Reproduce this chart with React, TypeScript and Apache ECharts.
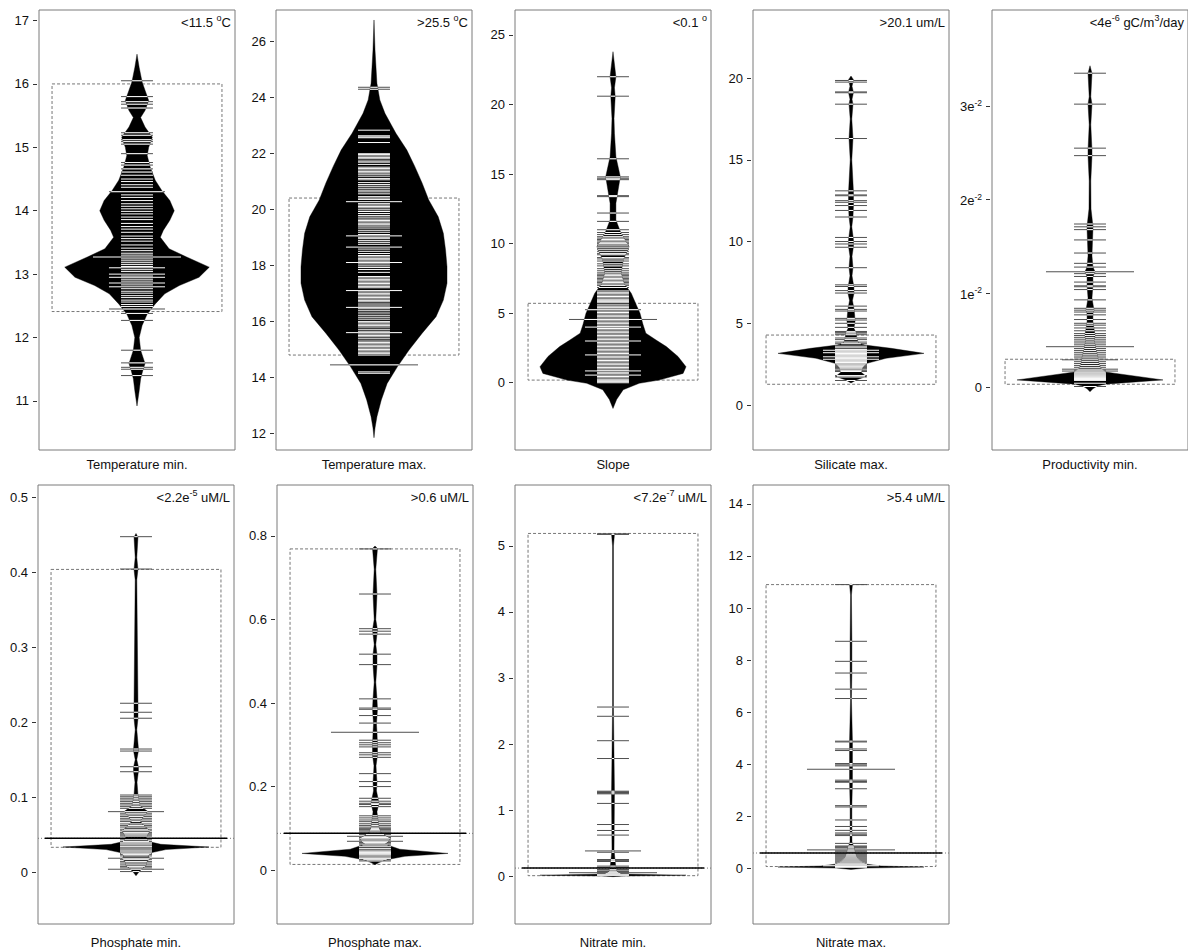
import React, { useEffect, useRef } from "react";
import * as echarts from "echarts";

// ---------------- DATA ----------------
const panelTitles = [
  "Temperature min.", "Temperature max.", "Slope", "Silicate max.", "Productivity min.",
  "Phosphate min.", "Phosphate max.", "Nitrate min.", "Nitrate max.",
];

const thresholdLabels = [
  "{n|<11.5 }{s|o}{n|C}",
  "{n|>25.5 }{s|o}{n|C}",
  "{n|<0.1 }{s|o}",
  "{n|>20.1 um/L}",
  "{n|<4e}{s|-6}{n| gC/m}{s|3}{n|/day}",
  "{n|<2.2e}{s|-5}{n| uM/L}",
  "{n|>0.6 uM/L}",
  "{n|<7.2e}{s|-7}{n| uM/L}",
  "{n|>5.4 uM/L}",
];

// axis ranges [min, max]
const tempMinRange = [10.226, 17.166];
const tempMaxRange = [11.414, 27.106];
const slopeRange = [-4.835, 26.797];
const silicateRange = [-2.75, 24.16];
const prodRange = [-0.00673, 0.04025];
const phosMinRange = [-0.0694, 0.5167];
const phosMaxRange = [-0.129, 0.922];
const nitMinRange = [-0.727, 5.924];
const nitMaxRange = [-2.15, 14.73];

// tick values and labels
const tempMinTicks = [11, 12, 13, 14, 15, 16, 17];
const tempMaxTicks = [12, 14, 16, 18, 20, 22, 24, 26];
const slopeTicks = [0, 5, 10, 15, 20, 25];
const silicateTicks = [0, 5, 10, 15, 20];
const prodTicks = [0, 0.01, 0.02, 0.03];
const prodTickLabels = ["{n|0}", "{n|1e}{s|-2}", "{n|2e}{s|-2}", "{n|3e}{s|-2}"];
const phosMinTicks = [0, 0.1, 0.2, 0.3, 0.4, 0.5];
const phosMaxTicks = [0, 0.2, 0.4, 0.6, 0.8];
const nitMinTicks = [0, 1, 2, 3, 4, 5];
const nitMaxTicks = [0, 2, 4, 6, 8, 10, 12, 14];

// dotted boxes [low, high]
const tempMinBox = [12.41, 16.0];
const tempMaxBox = [14.8, 20.4];
const slopeBox = [0.19, 5.71];
const silicateBox = [1.27, 4.28];
const prodBox = [0.00029, 0.00296];
const phosMinBox = [0.033, 0.404];
const phosMaxBox = [0.0136, 0.769];
const nitMinBox = [0.005, 5.19];
const nitMaxBox = [0.06, 10.9];

// bean densities [value, relative width] (top to bottom)
const tempMinViolin = [
  [16.47, 0], [16.26, 0.03], [16.03, 0.07], [15.9, 0.11], [15.74, 0.16], [15.58, 0.11], [15.47, 0.05],
  [15.32, 0.11], [15.16, 0.21], [15.0, 0.16], [14.87, 0.14], [14.69, 0.18], [14.48, 0.25], [14.32, 0.34],
  [14.16, 0.45], [14.0, 0.51], [13.85, 0.45], [13.69, 0.36], [13.58, 0.32], [13.4, 0.44], [13.27, 0.68],
  [13.11, 0.99], [12.95, 0.85], [12.82, 0.58], [12.69, 0.38], [12.53, 0.25], [12.37, 0.14], [12.19, 0.07],
  [12.0, 0.03], [11.8, 0.05], [11.59, 0.11], [11.48, 0.08], [11.35, 0.05], [11.16, 0.03], [10.92, 0],
];
const tempMaxViolin = [
  [26.75, 0], [25.68, 0.014], [24.49, 0.04], [23.9, 0.08], [23.42, 0.15], [22.71, 0.3], [22.11, 0.45],
  [21.52, 0.56], [20.93, 0.66], [20.33, 0.75], [19.73, 0.88], [19.14, 0.95], [18.55, 0.98], [17.95, 1.0],
  [17.36, 1.0], [16.76, 0.95], [16.17, 0.85], [15.58, 0.66], [14.98, 0.48], [14.38, 0.32], [13.79, 0.18],
  [13.2, 0.1], [12.6, 0.04], [12.2, 0.014], [11.85, 0],
];
const slopeViolin = [
  [23.8, 0], [22.0, 0.04], [21.2, 0.02], [20.56, 0.03], [19.0, 0.014], [17.93, 0.02], [16.25, 0.04],
  [14.81, 0.1], [13.86, 0.07], [12.9, 0.04], [11.7, 0.04], [10.74, 0.11], [9.78, 0.22], [8.82, 0.14],
  [7.87, 0.11], [7.15, 0.15], [6.43, 0.25], [5.47, 0.33], [5.0, 0.37], [4.2, 0.41], [3.56, 0.45],
  [3.07, 0.59], [2.6, 0.73], [1.89, 0.89], [1.15, 1.0], [0.67, 0.96], [0.19, 0.63], [-0.04, 0.36],
  [-0.5, 0.14], [-1.2, 0.05], [-1.85, 0],
];
const silicateViolin = [
  [20.12, 0], [19.9, 0.034], [19.5, 0.014], [19.12, 0.034], [18.7, 0.014], [18.4, 0.027], [17.5, 0.011],
  [16.3, 0.027], [15.0, 0.011], [13.0, 0.034], [12.6, 0.034], [12.2, 0.034], [11.5, 0.027], [10.9, 0.011],
  [10.1, 0.034], [9.7, 0.034], [9.1, 0.014], [8.4, 0.027], [7.9, 0.014], [7.2, 0.04], [6.8, 0.04],
  [6.4, 0.02], [5.9, 0.04], [5.5, 0.05], [5.1, 0.055], [4.7, 0.04], [4.4, 0.07], [4.1, 0.08], [3.8, 0.1],
  [3.67, 0.19], [3.47, 0.55], [3.16, 1.0], [2.86, 0.48], [2.55, 0.22], [2.3, 0.16], [2.0, 0.14],
  [1.75, 0.21], [1.55, 0.08], [1.35, 0],
];
const prodViolin = [
  [0.0343, 0], [0.0335, 0.027], [0.031, 0.011], [0.0302, 0.027], [0.028, 0.011], [0.0253, 0.027],
  [0.0247, 0.027], [0.022, 0.011], [0.019, 0.014], [0.0172, 0.04], [0.0168, 0.04], [0.0155, 0.034],
  [0.014, 0.027], [0.0128, 0.04], [0.0123, 0.07], [0.0118, 0.04], [0.0108, 0.04], [0.0095, 0.027],
  [0.0082, 0.055], [0.0078, 0.04], [0.007, 0.04], [0.0062, 0.055], [0.0055, 0.07], [0.005, 0.055],
  [0.0045, 0.07], [0.004, 0.08], [0.0035, 0.1], [0.003, 0.11], [0.0025, 0.12], [0.002, 0.15],
  [0.0016, 0.21], [0.00075, 1.0], [0.0003, 0.2], [0.0001, 0.1], [-0.0002, 0.04], [-0.0005, 0],
];
const phosMinViolin = [
  [0.452, 0], [0.447, 0.027], [0.42, 0.011], [0.404, 0.027], [0.39, 0.011], [0.225, 0.027], [0.21, 0.027],
  [0.205, 0.027], [0.19, 0.011], [0.164, 0.034], [0.162, 0.034], [0.15, 0.011], [0.14, 0.034],
  [0.135, 0.034], [0.12, 0.014], [0.103, 0.027], [0.095, 0.04], [0.088, 0.055], [0.081, 0.16],
  [0.075, 0.11], [0.068, 0.055], [0.062, 0.11], [0.055, 0.19], [0.05, 0.16], [0.046, 0.14],
  [0.041, 0.16], [0.037, 0.34], [0.0334, 1.0], [0.03, 0.41], [0.026, 0.22], [0.022, 0.16],
  [0.018, 0.19], [0.013, 0.14], [0.009, 0.14], [0.004, 0.08], [0.0, 0.04], [-0.005, 0],
];
const phosMaxViolin = [
  [0.776, 0], [0.77, 0.034], [0.72, 0.011], [0.66, 0.027], [0.6, 0.011], [0.575, 0.034], [0.565, 0.027],
  [0.54, 0.011], [0.517, 0.027], [0.49, 0.027], [0.45, 0.011], [0.41, 0.027], [0.385, 0.034], [0.35, 0.02],
  [0.33, 0.027], [0.3, 0.034], [0.275, 0.034], [0.25, 0.014], [0.23, 0.02], [0.21, 0.027], [0.19, 0.02],
  [0.16, 0.055], [0.14, 0.027], [0.12, 0.04], [0.1, 0.055], [0.09, 0.08], [0.075, 0.21], [0.062, 0.14],
  [0.05, 0.34], [0.04, 1.0], [0.033, 0.41], [0.025, 0.16], [0.018, 0.055], [0.013, 0],
];
const nitMinViolin = [
  [5.19, 0], [5.18, 0.02], [5.0, 0.006], [2.56, 0.006], [1.27, 0.02], [0.4, 0.014], [0.25, 0.027],
  [0.12, 0.04], [0.06, 0.055], [0.03, 0.11], [0.012, 1.0], [0.0, 0.14], [-0.01, 0],
];
const nitMaxViolin = [
  [10.92, 0], [10.9, 0.02], [10.5, 0.006], [8.72, 0.012], [7.5, 0.012], [6.5, 0.006], [4.85, 0.02],
  [4.0, 0.02], [3.35, 0.02], [2.4, 0.012], [1.3, 0.012], [1.0, 0.014], [0.8, 0.04], [0.6, 0.055],
  [0.4, 0.08], [0.25, 0.14], [0.15, 0.22], [0.08, 0.41], [0.04, 1.0], [0.0, 0.2], [-0.05, 0],
];

// bean lines [value, multiplicity level]
const tempMinBeans = [
  [16.05, 1], [15.8, 1], [15.72, 1], [15.68, 1], [15.62, 1], [15.23, 1], [15.19, 1], [15.12, 1], [15.09, 1],
  [15.05, 1], [14.9, 1], [14.76, 1], [14.72, 1], [14.66, 1], [14.61, 1], [14.56, 1], [14.5, 1], [14.46, 1],
  [14.41, 1], [14.37, 1], [14.3, 2], [14.25, 1], [14.21, 1], [14.16, 1], [14.11, 1], [14.07, 1], [14.03, 1],
  [13.99, 1], [13.95, 1], [13.9, 1], [13.86, 1], [13.8, 1], [13.75, 1], [13.71, 1], [13.66, 1], [13.6, 1],
  [13.56, 1], [13.52, 1], [13.46, 1], [13.41, 1], [13.37, 1], [13.33, 1], [13.3, 1], [13.27, 3], [13.24, 1],
  [13.21, 1], [13.18, 1], [13.15, 1], [13.12, 1], [13.1, 2], [13.07, 1], [13.04, 1], [13.0, 2], [12.97, 1],
  [12.95, 2], [12.92, 1], [12.89, 1], [12.86, 2], [12.83, 1], [12.8, 2], [12.77, 1], [12.73, 1], [12.7, 1],
  [12.66, 1], [12.63, 1], [12.59, 1], [12.56, 1], [12.52, 1], [12.49, 1], [12.45, 2], [12.38, 1], [12.27, 1],
  [11.8, 1], [11.6, 1], [11.53, 1], [11.5, 1], [11.4, 1],
];
const tempMaxBeans = [
  [24.35, 1], [24.28, 1], [22.82, 1], [22.62, 1], [22.58, 1], [22.55, 1], [22.38, 1],
  [21.98, 1], [21.95, 1], [21.9, 1], [21.85, 1], [21.8, 1], [21.72, 1], [21.68, 1], [21.6, 1], [21.5, 1],
  [21.45, 1], [21.4, 1], [21.35, 1], [21.3, 1], [21.25, 1], [21.18, 1], [21.1, 1], [21.05, 1], [20.95, 1],
  [20.88, 1], [20.82, 1], [20.75, 1], [20.68, 1], [20.62, 1], [20.55, 1], [20.45, 1], [20.4, 1], [20.35, 1],
  [20.27, 2], [20.2, 1], [20.15, 1], [20.1, 1], [20.05, 1], [19.98, 1], [19.92, 1], [19.85, 1], [19.78, 1],
  [19.72, 1], [19.65, 1], [19.6, 1], [19.55, 1], [19.5, 1], [19.45, 1], [19.4, 1], [19.33, 1], [19.25, 1],
  [19.18, 1], [19.1, 1], [19.05, 2], [19.0, 1], [18.95, 1], [18.88, 1], [18.82, 1], [18.75, 1], [18.65, 2],
  [18.58, 1], [18.5, 1], [18.42, 1], [18.35, 1], [18.3, 1], [18.25, 1], [18.2, 1], [18.15, 1], [18.1, 2],
  [18.05, 1], [17.98, 1], [17.92, 1], [17.85, 1], [17.75, 1], [17.6, 1], [17.55, 1], [17.5, 1], [17.45, 1],
  [17.4, 1], [17.35, 1], [17.3, 1], [17.25, 1], [17.2, 1], [17.1, 2], [17.05, 1], [17.0, 1], [16.95, 1],
  [16.9, 1], [16.85, 1], [16.8, 1], [16.75, 1], [16.7, 1], [16.62, 1], [16.55, 1], [16.5, 2], [16.45, 1],
  [16.38, 1], [16.3, 1], [16.22, 1], [16.15, 1], [16.08, 1], [16.0, 1], [15.95, 1], [15.9, 1], [15.85, 1],
  [15.8, 1], [15.72, 1], [15.65, 1], [15.6, 2], [15.55, 1], [15.5, 1], [15.45, 1], [15.38, 1], [15.3, 1],
  [15.25, 1], [15.2, 1], [15.15, 1], [15.1, 1], [15.05, 1], [15.0, 1], [14.95, 1], [14.9, 1], [14.85, 1],
  [14.8, 1], [14.45, 3], [14.2, 1], [14.15, 1],
];
const slopeBeans = [
  [22.0, 1], [20.6, 1], [16.1, 1], [14.8, 1], [14.7, 1], [14.6, 1], [13.45, 1], [13.38, 1], [12.2, 1],
  [11.6, 1], [11.0, 1], [10.8, 1], [10.65, 1], [10.5, 1], [10.4, 1], [10.3, 1], [10.2, 1], [10.1, 1],
  [10.0, 1], [9.9, 1], [9.75, 1], [9.6, 1], [9.45, 1], [9.3, 1], [9.2, 1], [9.0, 1], [8.9, 1], [8.75, 1],
  [8.55, 1], [8.4, 1], [8.2, 1], [8.05, 1], [7.9, 1], [7.8, 1], [7.7, 1], [7.6, 1], [7.5, 1], [7.4, 1],
  [7.3, 1], [7.2, 1], [7.1, 1], [7.0, 1], [6.85, 1], [6.6, 1], [6.5, 1], [6.4, 1], [6.3, 1], [6.2, 1],
  [6.1, 1], [6.0, 1], [5.9, 1], [5.85, 1], [5.75, 1], [5.6, 1], [5.5, 1], [5.4, 1], [5.3, 1], [5.25, 2],
  [5.15, 1], [5.05, 1], [4.95, 1], [4.85, 1], [4.75, 1], [4.65, 1], [4.55, 3], [4.45, 1], [4.35, 1],
  [4.25, 1], [4.15, 1], [4.05, 1], [4.0, 2], [3.9, 1], [3.8, 1], [3.7, 1], [3.6, 1], [3.5, 1], [3.4, 1],
  [3.3, 1], [3.2, 1], [3.1, 1], [3.0, 2], [2.9, 1], [2.8, 1], [2.7, 1], [2.6, 1], [2.5, 1], [2.4, 1],
  [2.3, 1], [2.2, 1], [2.1, 1], [2.0, 2], [1.9, 1], [1.8, 1], [1.7, 1], [1.6, 1], [1.5, 1], [1.4, 1],
  [1.3, 1], [1.2, 1], [1.1, 1], [1.0, 1], [0.9, 1], [0.85, 2], [0.75, 1], [0.65, 1], [0.55, 2], [0.45, 1],
  [0.35, 1], [0.25, 1], [0.15, 1], [0.08, 1], [0.0, 1],
];
const silicateBeans = [
  [19.85, 1], [19.75, 1], [19.15, 1], [19.1, 1], [18.4, 1], [16.3, 1], [13.1, 1], [12.85, 1], [12.8, 1],
  [12.5, 1], [12.4, 1], [12.2, 1], [11.9, 1], [11.5, 1], [10.25, 1], [10.0, 1], [9.85, 1], [9.65, 1],
  [8.4, 1], [7.35, 1], [7.25, 1], [7.0, 1], [6.85, 1], [6.05, 1], [5.85, 1], [5.75, 1], [5.3, 1], [5.2, 1],
  [5.0, 1], [4.75, 1], [4.5, 1], [4.45, 1], [4.4, 1], [4.3, 1], [4.1, 1], [4.0, 1], [3.85, 1], [3.75, 1],
  [3.6, 1], [3.5, 1], [3.4, 1], [3.35, 2], [3.3, 1], [3.25, 1], [3.2, 2], [3.15, 1], [3.1, 1], [3.05, 1],
  [3.0, 1], [2.95, 2], [2.9, 1], [2.85, 1], [2.8, 2], [2.75, 1], [2.7, 1], [2.65, 1], [2.6, 1], [2.55, 1],
  [2.5, 1], [2.45, 1], [2.4, 1], [2.35, 1], [2.3, 1], [2.25, 1], [2.2, 1], [2.1, 1], [2.05, 1], [1.8, 1],
  [1.72, 1], [1.5, 1],
];
const prodBeans = [
  [0.0335, 1], [0.0302, 1], [0.0255, 1], [0.0247, 1], [0.0174, 1], [0.0171, 1], [0.0168, 1], [0.0157, 1],
  [0.0143, 1], [0.0132, 1], [0.0128, 1], [0.0123, 3], [0.0121, 1], [0.0118, 1], [0.0112, 1], [0.0108, 1],
  [0.0107, 1], [0.0104, 1], [0.0093, 1], [0.0084, 1], [0.0082, 1], [0.008, 1], [0.0077, 1], [0.0072, 1],
  [0.0068, 1], [0.0066, 1], [0.0063, 1], [0.006, 1], [0.0057, 1], [0.0055, 1], [0.0053, 1], [0.0051, 1],
  [0.0049, 1], [0.0047, 1], [0.0045, 1], [0.0043, 3], [0.0041, 1], [0.0039, 1], [0.0037, 1], [0.0035, 1],
  [0.0033, 1], [0.0031, 1], [0.0029, 2], [0.0027, 1], [0.0025, 1], [0.0023, 1], [0.0021, 1], [0.0019, 2],
  [0.0018, 1], [0.0017, 2], [0.0016, 1], [0.0015, 1], [0.0014, 1], [0.0013, 1], [0.0012, 1], [0.0011, 1],
  [0.001, 1], [0.0009, 1], [0.0008, 1], [0.0007, 1], [0.0004, 1], [0.00005, 1],
];
const phosMinBeans = [
  [0.4477, 1], [0.4045, 1], [0.2253, 1], [0.2133, 1], [0.2053, 1], [0.1642, 1], [0.1615, 1], [0.1406, 1],
  [0.1339, 1], [0.1028, 1], [0.1005, 1], [0.0985, 1], [0.0962, 1], [0.094, 1], [0.0917, 1], [0.0895, 1],
  [0.0873, 1], [0.085, 1], [0.0806, 2], [0.0785, 1], [0.0762, 1], [0.074, 1], [0.0717, 1], [0.0695, 1],
  [0.0673, 1], [0.0642, 1], [0.062, 1], [0.06, 1], [0.0571, 1], [0.055, 1], [0.0526, 1], [0.051, 1],
  [0.0495, 1], [0.048, 1], [0.043, 1], [0.0406, 1], [0.039, 1], [0.0375, 1], [0.036, 1], [0.0339, 1],
  [0.032, 1], [0.0295, 1], [0.028, 1], [0.0265, 1], [0.025, 1], [0.0235, 1], [0.0215, 1], [0.0184, 2],
  [0.0165, 1], [0.0139, 1], [0.012, 1], [0.0095, 1], [0.0075, 1], [0.0055, 1], [0.0037, 2], [0.0006, 1],
];
const phosMaxBeans = [
  [0.769, 1], [0.661, 1], [0.578, 1], [0.572, 1], [0.565, 1], [0.517, 1], [0.492, 1], [0.41, 1], [0.388, 1],
  [0.385, 1], [0.37, 1], [0.352, 1], [0.33, 3], [0.311, 1], [0.305, 1], [0.3, 1], [0.295, 1], [0.281, 1],
  [0.276, 1], [0.27, 1], [0.231, 1], [0.212, 1], [0.2, 1], [0.172, 1], [0.165, 1], [0.16, 1], [0.157, 1],
  [0.152, 1], [0.13, 1], [0.125, 1], [0.12, 1], [0.116, 1], [0.111, 1], [0.107, 1], [0.103, 1], [0.1, 1],
  [0.097, 1], [0.094, 1], [0.091, 1], [0.085, 1], [0.081, 2], [0.078, 1], [0.075, 1], [0.072, 1], [0.069, 2],
  [0.066, 1], [0.063, 1], [0.06, 1], [0.056, 1], [0.052, 1], [0.048, 1], [0.045, 1], [0.042, 1], [0.04, 1],
  [0.037, 1], [0.034, 1], [0.031, 1], [0.028, 1], [0.025, 1], [0.022, 1],
];
const nitMinBeans = [
  [5.185, 1], [5.175, 1], [2.56, 1], [2.42, 1], [2.05, 1], [1.78, 1], [1.285, 1], [1.275, 1], [1.265, 1],
  [1.255, 1], [1.245, 1], [1.1, 1], [0.78, 1], [0.69, 1], [0.62, 1], [0.38, 2], [0.36, 1], [0.25, 1],
  [0.24, 1], [0.23, 1], [0.22, 1], [0.15, 1], [0.13, 1], [0.1, 1], [0.09, 1], [0.07, 1], [0.06, 1],
  [0.05, 3], [0.035, 1], [0.02, 1], [0.01, 1],
];
const nitMaxBeans = [
  [10.9, 1], [8.72, 1], [7.95, 1], [7.5, 1], [6.88, 1], [6.52, 1], [4.88, 1], [4.85, 1], [4.58, 1],
  [4.52, 1], [4.02, 1], [3.97, 1], [3.93, 1], [3.8, 3], [3.38, 1], [3.33, 1], [3.3, 1], [3.05, 1],
  [2.4, 1], [2.35, 1], [1.85, 1], [1.6, 1], [1.45, 1], [1.35, 1], [1.3, 1], [1.25, 1], [0.95, 1],
  [0.85, 1], [0.82, 1], [0.8, 1], [0.77, 1], [0.7, 3], [0.66, 1], [0.62, 1], [0.55, 1], [0.51, 1],
  [0.47, 1], [0.43, 1], [0.39, 1], [0.35, 1], [0.31, 1], [0.27, 1], [0.23, 1], [0.19, 1], [0.15, 1],
  [0.12, 1], [0.09, 2], [0.06, 1], [0.03, 1],
];

// overall average lines (bottom row)
const phosMinAvg = 0.045;
const phosMaxAvg = 0.088;
const nitMinAvg = 0.12;
const nitMaxAvg = 0.58;

// ---------------- LAYOUT / STYLE ----------------
const FONT = "'Liberation Sans', Arial, Helvetica, sans-serif";
const LEFTS = [39, 276, 515, 753, 992, 38, 277, 515, 753];
const TOPS = [10, 10, 10, 10, 10, 485, 485, 485, 485];
const HEIGHTS = [440, 440, 440, 440, 440, 439, 439, 439, 439];
const W = 196;
const TITLE_Y = [464, 942];
const LEVEL_LEN = [0, 0.163, 0.286, 0.449];
const VIOLIN_SCALE = 0.745;
const BOX_HALF = 0.867;
const OUT_COLOR = "#505050";

const panels = [
  { violin: tempMinViolin, beans: tempMinBeans, box: tempMinBox, avg: null, range: tempMinRange, ticks: tempMinTicks, tickLabels: null },
  { violin: tempMaxViolin, beans: tempMaxBeans, box: tempMaxBox, avg: null, range: tempMaxRange, ticks: tempMaxTicks, tickLabels: null },
  { violin: slopeViolin, beans: slopeBeans, box: slopeBox, avg: null, range: slopeRange, ticks: slopeTicks, tickLabels: null },
  { violin: silicateViolin, beans: silicateBeans, box: silicateBox, avg: null, range: silicateRange, ticks: silicateTicks, tickLabels: null },
  { violin: prodViolin, beans: prodBeans, box: prodBox, avg: null, range: prodRange, ticks: prodTicks, tickLabels: prodTickLabels },
  { violin: phosMinViolin, beans: phosMinBeans, box: phosMinBox, avg: phosMinAvg, range: phosMinRange, ticks: phosMinTicks, tickLabels: null },
  { violin: phosMaxViolin, beans: phosMaxBeans, box: phosMaxBox, avg: phosMaxAvg, range: phosMaxRange, ticks: phosMaxTicks, tickLabels: null },
  { violin: nitMinViolin, beans: nitMinBeans, box: nitMinBox, avg: nitMinAvg, range: nitMinRange, ticks: nitMinTicks, tickLabels: null },
  { violin: nitMaxViolin, beans: nitMaxBeans, box: nitMaxBox, avg: nitMaxAvg, range: nitMaxRange, ticks: nitMaxTicks, tickLabels: null },
];

// width of the bean outline at a given value (profile is ordered top to bottom)
function widthAt(profile: number[][], v: number): number {
  for (let i = 0; i < profile.length - 1; i++) {
    const [y0, w0] = profile[i];
    const [y1, w1] = profile[i + 1];
    if (v <= y0 && v >= y1) {
      const t = y0 === y1 ? 0 : (y0 - v) / (y0 - y1);
      return w0 + (w1 - w0) * t;
    }
  }
  return 0;
}

const richStyles = {
  n: { fontSize: 13, fontFamily: FONT, fill: "#111", color: "#111", lineHeight: 15, verticalAlign: "bottom" },
  s: { fontSize: 9, fontFamily: FONT, fill: "#111", color: "#111", verticalAlign: "top" },
};

function buildOption() {
  const grid: any[] = [];
  const xAxis: any[] = [];
  const yAxis: any[] = [];
  const series: any[] = [];
  const graphic: any[] = [];

  panels.forEach((p, i) => {
    const left = LEFTS[i];
    const top = TOPS[i];
    const h = HEIGHTS[i];
    grid.push({
      left, top, width: W, height: h, show: true,
      borderColor: "#7a7a7a", borderWidth: 1, backgroundColor: "rgba(0,0,0,0)",
    });
    xAxis.push({ gridIndex: i, type: "value", min: -1, max: 1, show: false });
    yAxis.push({
      gridIndex: i, type: "value", min: p.range[0], max: p.range[1], offset: 2, position: "left",
      axisLine: { show: false, onZero: false },
      splitLine: { show: false },
      axisTick: { show: true, length: 4, customValues: p.ticks, lineStyle: { color: "#333", width: 1 } },
      axisLabel: {
        show: true, customValues: p.ticks, margin: 8, color: "#111", fontSize: 13, fontFamily: FONT,
        formatter: (v: number) => {
          let idx = -1;
          p.ticks.forEach((t, k) => { if (Math.abs(t - v) < 1e-9) idx = k; });
          if (p.tickLabels && idx >= 0) return p.tickLabels[idx];
          return idx >= 0 ? String(p.ticks[idx]) : String(v);
        },
        rich: {
          n: { fontSize: 13, fontFamily: FONT, color: "#111", lineHeight: 15, verticalAlign: "bottom" },
          s: { fontSize: 8.5, fontFamily: FONT, color: "#111", verticalAlign: "top" },
        },
      },
    });

    // dotted box
    series.push({
      type: "custom", xAxisIndex: i, yAxisIndex: i, silent: true,
      data: [p.box],
      renderItem: (params: any, api: any) => {
        const a = api.coord([-BOX_HALF, api.value(1)]);
        const b = api.coord([BOX_HALF, api.value(0)]);
        return {
          type: "rect",
          shape: { x: a[0], y: a[1], width: b[0] - a[0], height: b[1] - a[1] },
          style: { fill: "none", stroke: "#777", lineWidth: 1, lineDash: [3, 2] },
        };
      },
    });

    // bean outline
    series.push({
      type: "custom", xAxisIndex: i, yAxisIndex: i, silent: true,
      data: [[0, p.violin[0][0]]],
      renderItem: (params: any, api: any) => {
        const right = p.violin.map(([y, w]) => api.coord([w * VIOLIN_SCALE, y]));
        const leftPts = p.violin.slice().reverse().map(([y, w]) => api.coord([-w * VIOLIN_SCALE, y]));
        return {
          type: "polygon",
          shape: { points: right.concat(leftPts) },
          style: { fill: "#000", stroke: "#000", lineWidth: 0.4 },
        };
      },
    });

    // bean lines
    series.push({
      type: "custom", xAxisIndex: i, yAxisIndex: i, silent: true,
      data: p.beans,
      renderItem: (params: any, api: any) => {
        const v = api.value(0);
        const lvl = api.value(1);
        const L = LEVEL_LEN[lvl] || LEVEL_LEN[1];
        const w = widthAt(p.violin, v) * VIOLIN_SCALE;
        const y = api.coord([0, v])[1];
        const X = (x: number) => api.coord([x, v])[0];
        const children: any[] = [];
        if (L > w) {
          children.push({ type: "line", shape: { x1: X(-L), y1: y, x2: X(L), y2: y }, style: { stroke: OUT_COLOR, lineWidth: 1 } });
        }
        const inner = Math.min(L, w);
        if (inner > 0.004) {
          children.push({ type: "line", shape: { x1: X(-inner), y1: y, x2: X(inner), y2: y }, style: { stroke: "#fff", lineWidth: 1 } });
        }
        return { type: "group", children };
      },
    });

    // overall average line
    if (p.avg !== null) {
      series.push({
        type: "custom", xAxisIndex: i, yAxisIndex: i, silent: true,
        data: [[0, p.avg]],
        renderItem: (params: any, api: any) => {
          const v = api.value(1);
          const y = api.coord([0, v])[1];
          const X = (x: number) => api.coord([x, v])[0];
          return {
            type: "group",
            children: [
              { type: "line", shape: { x1: X(-1), y1: y, x2: X(1), y2: y }, style: { stroke: "#777", lineWidth: 1, lineDash: [1, 2] } },
              { type: "line", shape: { x1: X(-0.93), y1: y, x2: X(0.93), y2: y }, style: { stroke: "#000", lineWidth: 1.5 } },
            ],
          };
        },
      });
    }

    // panel title below
    graphic.push({
      type: "text", x: left + W / 2, y: TITLE_Y[i < 5 ? 0 : 1], silent: true,
      style: { text: panelTitles[i], fill: "#111", fontSize: 13, fontFamily: FONT, align: "center", verticalAlign: "middle", textAlign: "center", textVerticalAlign: "middle" },
    });
    // threshold label top-right
    graphic.push({
      type: "text", x: left + W - 4, y: top + 11, silent: true,
      style: {
        text: thresholdLabels[i], fill: "#111", fontSize: 13, fontFamily: FONT,
        align: "right", verticalAlign: "middle", textAlign: "right", textVerticalAlign: "middle",
        rich: richStyles,
      },
    });
  });

  return { animation: false, backgroundColor: "#fff", grid, xAxis, yAxis, series, graphic };
}

export default function App() {
  const ref = useRef<HTMLDivElement>(null);
  useEffect(() => {
    if (!ref.current) return;
    const chart = echarts.init(ref.current, null, { renderer: "svg" });
    chart.setOption(buildOption() as any);
    return () => chart.dispose();
  }, []);
  return (
    <div
      ref={ref}
      style={{ position: "absolute", left: 0, top: 0, width: 1188, height: 951, background: "#fff" }}
    />
  );
}
